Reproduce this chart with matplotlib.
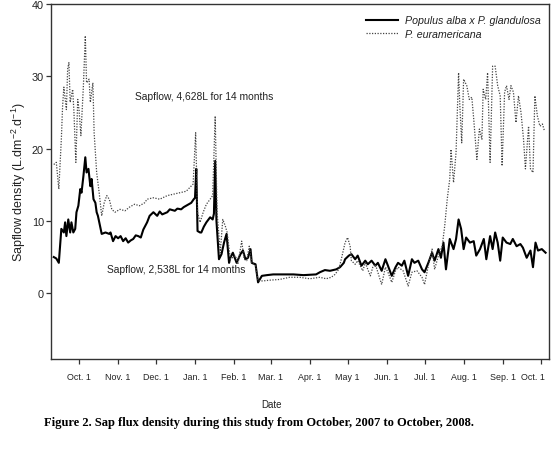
#!/usr/bin/env python3
import matplotlib

matplotlib.use("Agg")
import matplotlib.pyplot as plt
import matplotlib.transforms as mtransforms
import pandas as pd

# days since 2007-10-01, sap flux density (L.dm-2.d-1)
ALBA_DAYS = [
    -20, -18, -16, -14, -12, -11, -10, -8.5, -7, -6, -4.5, -3, -2, -0.5, 1, 2, 3.5, 5, 6, 7.5,
    9, 10, 11.5, 13, 14, 15, 17, 18, 21, 24, 25, 27, 29, 31, 33, 35, 37, 39, 41, 43,
    45, 47, 49, 51, 54, 56, 59, 62, 64, 66, 70, 72, 76, 78, 81, 83, 85, 89, 91, 92,
    93, 94, 96, 97, 99, 101, 104, 106, 107, 108, 109, 111, 113, 115, 117, 119, 120, 122, 125, 128,
    130, 132, 134, 136, 137, 140, 142, 145, 149, 154, 162, 170, 178, 188, 191, 195, 199, 204, 207, 210,
    211, 214, 216, 219, 221, 224, 227, 229, 232, 235, 237, 240, 243, 245, 248, 251, 253, 256, 258, 261,
    264, 266, 269, 272, 274, 277, 280, 282, 285, 287, 289, 291, 294, 297, 299, 301, 303, 305, 307, 310,
    313, 315, 318, 321, 323, 326, 328, 330, 332, 334, 336, 339, 342, 344, 347, 350, 352, 355, 358, 360,
    362, 364, 367, 370,
]
ALBA_VALUES = [
    5.0, 4.8, 4.2, 8.9, 8.4, 9.8, 7.9, 10.2, 8.4, 9.8, 8.4, 8.9, 11.2, 12.1, 14.4, 13.9, 16.2, 18.8, 16.7, 17.2,
    14.8, 15.8, 13.0, 12.5, 11.2, 10.7, 9.0, 8.2, 8.4, 8.2, 8.4, 7.2, 7.9, 7.6, 7.9, 7.2, 7.6, 7.0, 7.3, 7.5,
    8.0, 7.9, 7.7, 8.8, 9.8, 10.7, 11.2, 10.7, 11.3, 10.9, 11.2, 11.6, 11.4, 11.7, 11.6, 11.9, 12.1, 12.5, 13.0, 13.2,
    17.2, 8.6, 8.4, 8.4, 9.2, 9.8, 10.5, 10.2, 11.0, 18.3, 10.0, 4.7, 5.4, 7.0, 8.2, 4.2, 4.9, 5.6, 4.2, 5.4,
    5.9, 4.7, 4.9, 6.1, 4.2, 4.0, 1.5, 2.4, 2.5, 2.6, 2.6, 2.6, 2.5, 2.6, 2.9, 3.2, 3.1, 3.3, 3.6, 4.2,
    4.7, 5.2, 5.4, 4.7, 5.2, 3.8, 4.5, 4.0, 4.5, 3.8, 4.2, 3.1, 4.7, 3.8, 2.4, 3.6, 4.2, 3.8, 4.5, 2.4,
    4.7, 4.2, 4.5, 3.3, 2.9, 4.2, 5.6, 4.5, 6.1, 4.9, 7.0, 3.3, 7.5, 6.1, 7.5, 10.2, 8.9, 6.1, 7.7, 7.0,
    7.2, 5.2, 6.1, 7.5, 4.7, 7.9, 6.1, 8.4, 7.0, 4.5, 7.7, 7.0, 6.8, 7.5, 6.5, 6.8, 6.3, 4.9, 5.9, 3.6,
    7.0, 5.9, 6.1, 5.6,
]

EURA_DAYS = [
    -20, -18, -16, -14, -13, -12, -10, -9, -8, -7, -5, -4, -2.5, -1, 0, 1.5, 3.5, 5, 6, 8,
    9, 11, 12, 14, 16, 18, 20, 22, 24, 26, 28.5, 32.5, 36.5, 40, 44, 48, 52, 54, 59, 64,
    70, 75, 80, 85, 90.5, 92.5, 94, 96, 98.5, 101, 104, 106, 108, 109.5, 112, 114, 116, 117.5, 120, 124,
    126, 129, 131, 133, 135, 137, 140, 142, 146, 151, 159, 167, 175, 183, 191, 196, 200, 203, 206, 208,
    211, 213, 215, 216, 219, 221, 225, 227, 231, 233, 235, 240, 243, 245, 248, 251, 253, 257, 261, 264,
    268, 272, 274, 277, 280, 282, 285, 288, 290, 292, 294, 295, 297, 299, 301, 302, 303.5, 305, 307.5, 309.5,
    311.5, 313, 315.5, 317.5, 319.5, 320.5, 322.5, 324, 326, 328, 330, 332, 334, 335.5, 337.5, 339, 341, 342.5, 344.5, 346.5,
    348.5, 350.5, 352.5, 354, 356.5, 358, 360, 361.5, 363.5, 365.5, 367.5, 369,
]
EURA_VALUES = [
    17.8, 18.1, 14.4, 21.3, 25.9, 28.5, 25.4, 31.0, 31.9, 26.4, 28.2, 25.0, 18.1, 26.8, 25.4, 21.8, 28.7, 35.6, 29.1, 29.6,
    26.4, 29.1, 22.2, 16.7, 13.9, 10.7, 12.5, 13.5, 13.0, 11.6, 11.2, 11.6, 11.4, 11.9, 12.3, 12.1, 12.5, 13.0, 13.2, 13.0,
    13.5, 13.7, 13.9, 14.1, 15.1, 22.2, 11.2, 9.8, 11.2, 12.3, 13.0, 13.5, 24.5, 11.2, 5.6, 10.2, 9.3, 8.4, 4.7, 5.2,
    4.0, 7.2, 4.7, 4.5, 6.5, 4.2, 3.8, 1.7, 1.7, 1.8, 1.9, 2.2, 2.2, 2.0, 2.2, 2.0, 2.2, 2.6, 3.3, 4.7,
    7.0, 7.7, 6.5, 4.5, 4.0, 4.5, 3.1, 4.2, 2.4, 3.6, 4.0, 1.2, 3.6, 2.9, 1.5, 3.1, 3.6, 3.1, 1.0, 2.9,
    3.1, 2.2, 1.2, 3.8, 6.1, 3.3, 5.2, 6.5, 9.3, 13.0, 15.8, 19.9, 15.3, 19.5, 30.5, 25.9, 20.8, 29.6, 28.7, 26.8,
    27.1, 24.1, 18.5, 22.7, 21.3, 28.2, 26.8, 30.5, 18.1, 31.4, 31.4, 28.7, 27.3, 17.6, 27.8, 28.7, 26.8, 28.7, 27.8, 23.6,
    27.3, 25.0, 21.3, 17.2, 23.1, 17.2, 16.7, 27.3, 24.5, 23.1, 23.4, 22.5,
]

START = pd.Timestamp("2007-10-01")
TICK_DATES = pd.date_range("2007-10-01", "2008-10-01", freq="MS")
TICK_LABELS = ["Oct. 1", "Nov. 1", "Dec. 1", "Jan. 1", "Feb. 1", "Mar. 1", "Apr. 1",
               "May 1", "Jun. 1", "Jul. 1", "Aug. 1", "Sep. 1", "Oct. 1"]
Y_TICKS = [0, 10, 20, 30, 40]

SANS = ["Liberation Sans", "DejaVu Sans"]
plt.rcParams["font.family"] = SANS
plt.rcParams["mathtext.default"] = "regular"

fig = plt.figure(figsize=(5.51, 4.52), dpi=100)
ax = fig.add_axes([51 / 551, 1 - 360 / 452, 498 / 551, 355 / 452])

ax.plot(ALBA_DAYS, ALBA_VALUES, color="black", lw=1.5, label="Populus alba x P. glandulosa")
ax.plot(EURA_DAYS, EURA_VALUES, color="#444444", lw=0.9, linestyle=(0, (1, 1.2)),
        label="P. euramericana")

tick_pos = [(d - START).days for d in TICK_DATES]
ax.set_xticks(tick_pos, TICK_LABELS)
ax.set_yticks(Y_TICKS)
ax.set_xlim(-22.2, 372.7)
ax.set_ylim(-9.1, 40)

for side in ["left", "right", "top", "bottom"]:
    ax.spines[side].set_color("#333333")
    ax.spines[side].set_linewidth(1.0)
ax.tick_params(axis="both", direction="out", length=3.6, width=0.9, color="#333333",
               labelcolor="#222222")
ax.tick_params(axis="x", pad=5.5, labelsize=6.4)
ax.tick_params(axis="y", pad=1.5, labelsize=7.8)

# the last month label sits a little left of its tick, inside the figure
last = ax.get_xticklabels()[-1]
last.set_transform(last.get_transform()
                   + mtransforms.ScaledTranslation(-0.075, 0, fig.dpi_scale_trans))

ax.set_ylabel("Sapflow density (L.dm$^{-2}$.d$^{-1}$)", fontsize=9, color="#222222", labelpad=3)

ax.text(44.4, 27.3, "Sapflow, 4,628L for 14 months", fontsize=7.4, color="#222222",
        ha="left", va="center")
ax.text(22.2, 3.3, "Sapflow, 2,538L for 14 months", fontsize=7.4, color="#222222",
        ha="left", va="center")

leg = ax.legend(loc="upper right", bbox_to_anchor=(1.002, 0.995), frameon=False,
                prop={"style": "italic", "size": 7.7}, handlelength=3.0,
                handletextpad=0.6, labelspacing=0.35)
for text in leg.get_texts():
    text.set_color("#222222")

fig.text(272 / 551, 1 - 405 / 452, "Date", fontsize=7, color="#222222",
         ha="center", va="center")
fig.text(259 / 551, 1 - 423 / 452,
         "Figure 2. Sap flux density during this study from October, 2007 to October, 2008.",
         fontsize=9, fontweight="bold", family=["Liberation Serif", "DejaVu Serif"],
         ha="center", va="center")

fig.savefig("out.png", dpi=100)
